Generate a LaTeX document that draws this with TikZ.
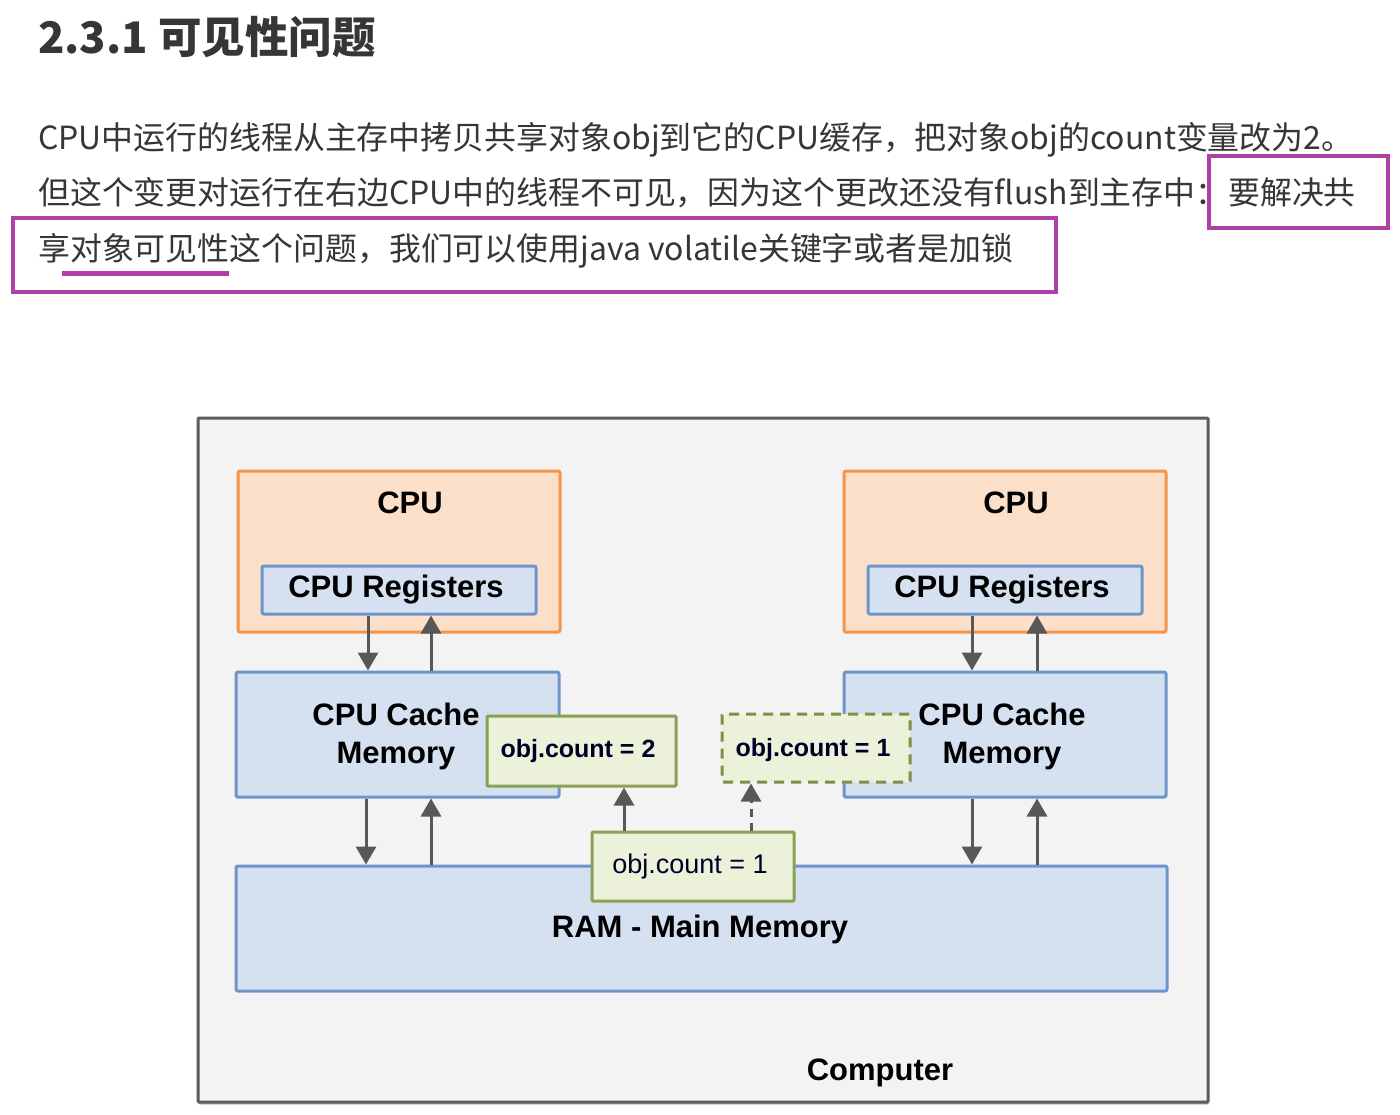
\documentclass[tikz,border=0pt]{standalone}
\usepackage{fontspec}
\usetikzlibrary{arrows.meta,shadows}
\newfontfamily\cjk{Noto Sans CJK SC}
\newfontfamily\dg{Liberation Sans}
\definecolor{txt}{HTML}{363636}
\definecolor{purp}{HTML}{B040A8}
\definecolor{orgfill}{HTML}{FCDFC9}
\definecolor{orgline}{HTML}{F5954A}
\definecolor{bluefill}{HTML}{D5E1F1}
\definecolor{blueline}{HTML}{6E95CB}
\definecolor{grnfill}{HTML}{ECF2DA}
\definecolor{grnline}{HTML}{8AA052}
\definecolor{compfill}{HTML}{F3F3F3}
\definecolor{compline}{HTML}{5C5C5C}
\definecolor{arrcol}{HTML}{585858}
\tikzset{
  box/.style={draw, line width=3pt, rounded corners=2pt, inner sep=0pt, anchor=center},
  cpubox/.style={box, fill=orgfill, draw=orgline, minimum width=322pt, minimum height=161pt},
  bluebox/.style={box, fill=bluefill, draw=blueline},
  objbox/.style={box, fill=grnfill, draw=grnline, rounded corners=1pt},
  dlabel/.style={font=\dg\bfseries\fontsize{31}{38}\selectfont, text=black, inner sep=0pt, align=center},
  olabel/.style={font=\dg\bfseries\fontsize{25}{30}\selectfont, text=black!85!blue, inner sep=0pt},
  arr/.style={draw=arrcol, line width=3pt, -{Triangle[width=20pt,length=18pt]}},
  bodytext/.style={font=\cjk\fontsize{31.9}{40}\selectfont, text=txt, inner sep=0pt, anchor=base west},
  purpbox/.style={draw=purp, line width=3.5pt}
}
\begin{document}
\begin{tikzpicture}[x=1pt,y=-1pt]
\useasboundingbox[fill=white] (0,0) rectangle (1400,1114);
% title and text
\node[font=\cjk\bfseries\fontsize{43.5}{50}\selectfont, text=txt, inner sep=0pt, anchor=base west] (title) at (38,53) {2.3.1 可见性问题};
\node[bodytext] (l1) at (38,149) {CPU中运行的线程从主存中拷贝共享对象obj到它的CPU缓存，把对象obj的count变量改为2。};
\node[bodytext] (l2) at (38,204) {但这个变更对运行在右边CPU中的线程不可见，因为这个更改还没有flush到主存中：};
\node[bodytext] (l2b) at (1228,204) {要解决共};
\node[bodytext] (l3) at (38,260) {享对象可见性这个问题，我们可以使用java volatile关键字或者是加锁};
\draw[purpbox] (1209,156) rectangle (1388,228);
\draw[purpbox] (13,218) rectangle (1056,292);
\draw[draw=purp, line width=5pt] (62,273) -- (229,273);
% diagram
\node[box, fill=compfill, draw=compline, rounded corners=1pt, minimum width=1010pt, minimum height=684pt,
      drop shadow={shadow xshift=1pt, shadow yshift=-2.5pt, opacity=0.5}] (comp) at (703,760) {};
\node[cpubox] (cpuL) at (399,551.5) {};
\node[cpubox] (cpuR) at (1005,551.5) {};
\node[dlabel] (cpuLt) at (410,503) {CPU};
\node[dlabel] (cpuRt) at (1016,503) {CPU};
\node[bluebox, minimum width=274pt, minimum height=48pt] (regL) at (399,590) {};
\node[bluebox, minimum width=274pt, minimum height=48pt] (regR) at (1005,590) {};
\node[dlabel] (regLt) at (396,590) {CPU Registers};
\node[dlabel] (regRt) at (1002,590) {CPU Registers};
\node[bluebox, minimum width=323pt, minimum height=125pt] (cacheL) at (397.5,734.5) {};
\node[bluebox, minimum width=322pt, minimum height=125pt] (cacheR) at (1005,734.5) {};
\node[dlabel] (cacheLt) at (396,736) {CPU Cache\\Memory};
\node[dlabel] (cacheRt) at (1002,736) {CPU Cache\\Memory};
\node[bluebox, minimum width=931pt, minimum height=125pt] (ram) at (701.5,928.5) {};
\node[dlabel] (ramt) at (700,929) {RAM - Main Memory};
\node[objbox, minimum width=189pt, minimum height=70pt] (objL) at (581.5,751) {};
\node[olabel] (objLt) at (578,751) {obj.count = 2};
\node[objbox, dashed, dash pattern=on 10pt off 7pt, draw=grnline!90!black, minimum width=188pt, minimum height=68pt] (objR) at (816,748) {};
\node[olabel] (objRt) at (813,750) {obj.count = 1};
\node[objbox, minimum width=202pt, minimum height=69pt] (objM) at (693,866.5) {};
\node[font=\dg\fontsize{27}{30}\selectfont, text=black!85!blue, inner sep=0pt] (objMt) at (690,867) {obj.count = 1};
\node[dlabel] (compt) at (880,1073) {Computer};
% arrows
\coordinate (xa) at (368,0);
\coordinate (xb) at (431,0);
\coordinate (xc) at (366,0);
\coordinate (xd) at (972,0);
\coordinate (xe) at (1037,0);
\coordinate (xf) at (624,0);
\coordinate (xg) at (751,0);
\draw[arr] (xa |- regL.south) -- (xa |- cacheL.north);
\draw[arr] (xb |- cacheL.north) -- (xb |- regL.south);
\draw[arr] (xc |- cacheL.south) -- (xc |- ram.north);
\draw[arr] (xb |- ram.north) -- (xb |- cacheL.south);
\draw[arr] (xd |- regR.south) -- (xd |- cacheR.north);
\draw[arr] (xe |- cacheR.north) -- (xe |- regR.south);
\draw[arr] (xd |- cacheR.south) -- (xd |- ram.north);
\draw[arr] (xe |- ram.north) -- (xe |- cacheR.south);
\draw[arr] (xf |- objM.north) -- (xf |- objL.south);
\draw[arr, dash pattern=on 8pt off 6pt] (xg |- objM.north) -- (xg |- objR.south);
\end{tikzpicture}
\end{document}
